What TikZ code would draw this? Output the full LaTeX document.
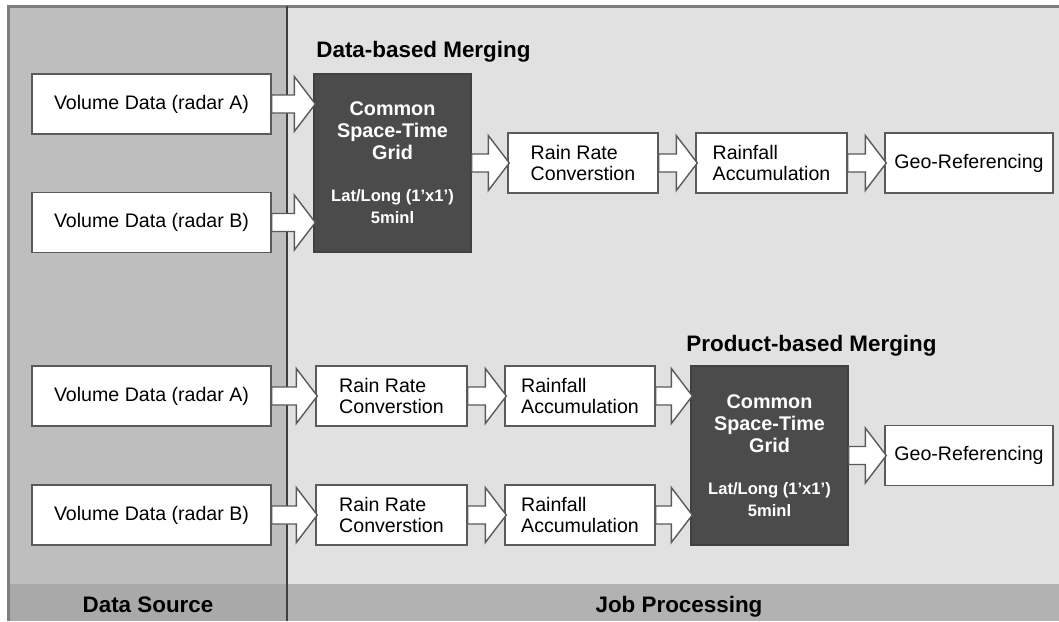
\documentclass[tikz,border=0pt]{standalone}
\usepackage{fontspec}
\setmainfont{Liberation Sans}
\usepackage{tikz}
\usetikzlibrary{calc}
\definecolor{srcpanel}{HTML}{BEBEBE}
\definecolor{jobpanel}{HTML}{E1E1E1}
\definecolor{srcband}{HTML}{A9A9A9}
\definecolor{jobband}{HTML}{B2B2B2}
\definecolor{gridfill}{HTML}{4B4B4B}
\definecolor{boxline}{HTML}{5A5A5A}
\definecolor{framegray}{HTML}{7E7E7E}
\newcommand{\gridbig}{\fontsize{9.9}{11}\selectfont\bfseries}
\newcommand{\gridsmall}{\fontsize{8.3}{9}\selectfont\bfseries}
\tikzset{
    procbox/.style={rectangle, draw=boxline, fill=white, line width=0.7pt, inner sep=0pt, minimum height=30pt, align=left, font=\fontsize{9.8}{10.5}\selectfont},
    gridbox/.style={rectangle, draw=gridfill!85!black, fill=gridfill, line width=0.7pt, inner sep=0pt, minimum width=78.5pt, minimum height=89pt, align=center, text=white, font=\gridbig},
    title/.style={anchor=base west, inner sep=0pt, font=\fontsize{11.2}{13}\selectfont\bfseries},
    bandlabel/.style={anchor=base, inner sep=0pt, font=\fontsize{11.2}{13}\selectfont\bfseries},
    fatarrow/.style={draw=boxline, fill=white, line width=0.7pt, line join=miter}
}
% hollow block arrow from the east side of #1 to the west side of #2
\newcommand{\blockarrow}[2]{%
  \draw[fatarrow] let \p1=(#1.east), \p2=(#2.west) in
    (\x1,\y1+4.5pt) -- (\x2-9.5pt,\y1+4.5pt) -- (\x2-9.5pt,\y1+13.75pt) -- (\x2+1pt,\y1)
    -- (\x2-9.5pt,\y1-13.75pt) -- (\x2-9.5pt,\y1-4.5pt) -- (\x1,\y1-4.5pt) -- cycle;}

\begin{document}
\begin{tikzpicture}[x=0.5pt, y=-0.5pt]
    \useasboundingbox (0,0) rectangle (1059,621);

    % Panels
    \fill[srcpanel] (8,6) rectangle (287,584);
    \fill[jobpanel] (287,6) rectangle (1059,584);
    \fill[srcband] (8,584) rectangle (287,621);
    \fill[jobband] (287,584) rectangle (1059,621);
    \draw[framegray, line width=1.5pt] (8.5,621) -- (8.5,6.5) -- (1059,6.5);
    \draw[boxline!70!black, line width=0.6pt] (287,6) -- (287,621);

    % Panel labels
    \node[bandlabel] (src) at (148,612) {Data Source};
    \node[bandlabel] (job) at (679,612) {Job Processing};

    % Data-based merging
    \node[title] (dbm) at (316,57) {Data-based Merging};
    \node[procbox, align=center, minimum width=119.5pt] (volA) at (151.5,104) {Volume Data (radar A)};
    \node[procbox, align=center, minimum width=119.5pt] (volB) at (151.5,222.5) {Volume Data (radar B)};
    \node[gridbox] (grid) at (392.5,163) {Common\\Space-Time\\Grid\\[10pt]\gridsmall Lat/Long (1’x1’)\\\gridsmall 5minl};
    \node[procbox, minimum width=75pt] (rate) at (583,163) {Rain Rate\\Converstion};
    \node[procbox, minimum width=75.5pt] (accu) at (771.5,163) {Rainfall\\Accumulation};
    \node[procbox, minimum width=84pt] (geo) at (969,163) {Geo-Referencing};

    % Product-based merging
    \node[title] (pbm) at (686,351) {Product-based Merging};
    \node[procbox, align=center, minimum width=119.5pt] (volC) at (151.5,396) {Volume Data (radar A)};
    \node[procbox, align=center, minimum width=119.5pt] (volD) at (151.5,515) {Volume Data (radar B)};
    \node[procbox, minimum width=75.5pt] (rateA) at (391.5,396) {Rain Rate\\Converstion};
    \node[procbox, minimum width=75.5pt] (rateB) at (391.5,515) {Rain Rate\\Converstion};
    \node[procbox, minimum width=75pt] (accuA) at (580,396) {Rainfall\\Accumulation};
    \node[procbox, minimum width=75pt] (accuB) at (580,515) {Rainfall\\Accumulation};
    \node[gridbox, minimum height=89.5pt] (gridP) at (769.5,455.5) {Common\\Space-Time\\Grid\\[10pt]\gridsmall Lat/Long (1’x1’)\\\gridsmall 5minl};
    \node[procbox, minimum width=84pt] (geoP) at (969,455.5) {Geo-Referencing};

    % Arrows
    \blockarrow{volA}{grid}
    \blockarrow{volB}{grid}
    \blockarrow{grid}{rate}
    \blockarrow{rate}{accu}
    \blockarrow{accu}{geo}
    \blockarrow{volC}{rateA}
    \blockarrow{volD}{rateB}
    \blockarrow{rateA}{accuA}
    \blockarrow{rateB}{accuB}
    \blockarrow{accuA}{gridP}
    \blockarrow{accuB}{gridP}
    \blockarrow{gridP}{geoP}
\end{tikzpicture}
\end{document}
